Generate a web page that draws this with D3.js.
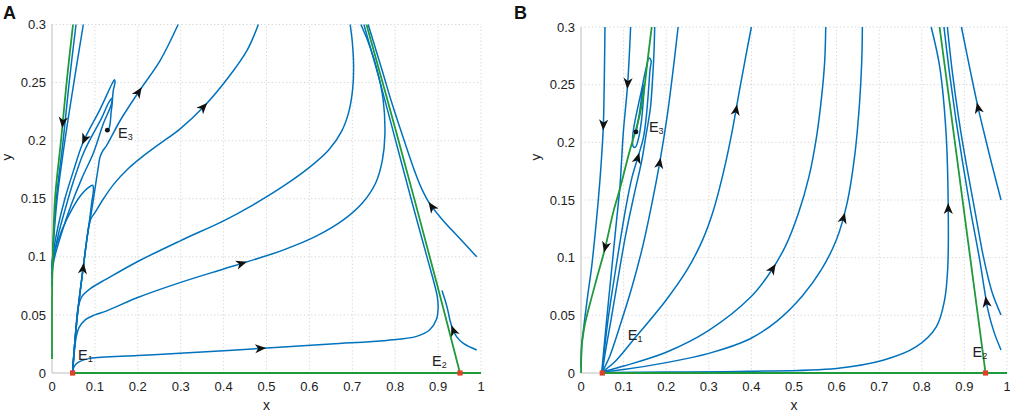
<!DOCTYPE html>
<html><head><meta charset="utf-8">
<script src="https://cdn.jsdelivr.net/npm/d3@7"></script>
<style>
body{margin:0;background:#fff}
svg{display:block}
text{font-family:"Liberation Sans",Arial,Helvetica,sans-serif;fill:#222}
</style>
</head><body>
<svg id="chart" width="1010" height="413"></svg>
<script>
// ---------- tick values / labels ----------
const xTicks = [0,0.1,0.2,0.3,0.4,0.5,0.6,0.7,0.8,0.9,1];
const xTickLabels = ["0","0.1","0.2","0.3","0.4","0.5","0.6","0.7","0.8","0.9","1"];
const yTicks = [0,0.05,0.1,0.15,0.2,0.25,0.3];
const yTickLabels = ["0","0.05","0.1","0.15","0.2","0.25","0.3"];

// ---------- Panel A trajectories (x, y) ----------
const aGreenSep   = [[0.049,0.3],[0.034,0.25],[0.021,0.2],[0.007,0.15],[0.002,0.1],[0.0005,0.08],[0,0.06],[0,0.012]];
const aGreenBase  = [[0.048,0],[1,0]];
const aGreenRight = [[0.951,0],[0.897,0.077],[0.8035,0.206],[0.733,0.3]];

const aDown1 = [[0.056,0.3],[0.04,0.25],[0.026,0.2],[0.01,0.15],[0.003,0.115],[0.001,0.09],[0,0.075]];
const aDown2 = [[0.073,0.3],[0.051,0.25],[0.03,0.2],[0.012,0.15],[0.004,0.115],[0.001,0.095],[0,0.082]];
const aLoopOuter = [[0,0.086],[0.005,0.098],[0.022,0.12],[0.045,0.145],[0.07,0.168],[0.096,0.189],[0.12,0.215],[0.139,0.232],[0.143,0.2436],[0.147,0.2505],[0.1455,0.2525],[0.14,0.249],[0.112,0.227],[0.073,0.199],[0.05,0.174],[0.03,0.15],[0.014,0.126],[0.004,0.106],[0,0.094]];
const aLoopInner = [[0.132,0.209],[0.135,0.2135],[0.138,0.225],[0.1405,0.233],[0.1405,0.2365],[0.137,0.2355],[0.131,0.232],[0.115,0.219],[0.096,0.206],[0.073,0.189],[0.05,0.165],[0.03,0.14],[0.014,0.118],[0.004,0.1],[0,0.09]];
const aHump  = [[0.048,0.001],[0.0536,0.028],[0.0613,0.057],[0.073,0.0915],[0.081,0.1145],[0.088,0.133],[0.093,0.148],[0.0965,0.157],[0.095,0.1615],[0.088,0.1605],[0.065,0.152],[0.034,0.132],[0.015,0.115],[0.003,0.1],[0,0.09]];
const aUp    = [[0.048,0.001],[0.0536,0.028],[0.0613,0.057],[0.073,0.0915],[0.081,0.1145],[0.0925,0.14],[0.1,0.158],[0.107,0.175],[0.112,0.186],[0.118,0.191],[0.1275,0.196],[0.16,0.218],[0.205,0.2436],[0.252,0.269],[0.294,0.3]];
const aMid   = [[0.048,0.001],[0.0536,0.028],[0.0613,0.057],[0.073,0.0915],[0.081,0.1145],[0.0855,0.126],[0.091,0.133],[0.1,0.138],[0.12,0.15],[0.145,0.163],[0.175,0.175],[0.21,0.186],[0.25,0.197],[0.298,0.21],[0.353,0.229],[0.41,0.254],[0.455,0.278],[0.481,0.3]];
const aUpper = [[0.048,0.001],[0.0536,0.028],[0.0613,0.057],[0.07,0.066],[0.0886,0.0725],[0.1275,0.081],[0.2,0.096],[0.3,0.114],[0.4,0.131],[0.47,0.145],[0.54,0.161],[0.6,0.177],[0.645,0.192],[0.675,0.208],[0.692,0.225],[0.701,0.245],[0.703,0.265],[0.7,0.285],[0.695,0.3]];
const aLower = [[0.048,0.001],[0.052,0.018],[0.056,0.03],[0.063,0.039],[0.078,0.046],[0.1,0.05],[0.1275,0.0535],[0.2,0.065],[0.3,0.078],[0.4,0.0895],[0.4615,0.0965],[0.54,0.106],[0.617,0.118],[0.68,0.132],[0.725,0.147],[0.755,0.164],[0.77,0.183],[0.776,0.205],[0.772,0.235],[0.756,0.2635],[0.737,0.285],[0.72,0.3]];
const aBottom = [[0.048,0.001],[0.052,0.006],[0.06,0.009],[0.0886,0.0126],[0.2,0.015],[0.298,0.017],[0.4925,0.0213],[0.65,0.025],[0.78,0.028],[0.85,0.0315],[0.88,0.037],[0.896,0.046],[0.9,0.056],[0.898,0.066],[0.891,0.077],[0.874,0.1],[0.837,0.15],[0.801,0.2],[0.765,0.25],[0.727,0.3]];
const aRight1 = [[0.99,0.1],[0.95,0.116],[0.91,0.132],[0.88,0.146],[0.86,0.16],[0.845,0.174],[0.83,0.19],[0.812,0.21],[0.79,0.235],[0.77,0.26],[0.737,0.3]];
const aRight2 = [[0.99,0.0198],[0.959,0.0255],[0.943,0.0313],[0.934,0.038],[0.928,0.045],[0.922,0.055],[0.916,0.063],[0.909,0.071]];

const aArrows = [["aGreenSep",0.021,0.2147],["aLoopOuter",0.075,0.2],["aUp",0.201,0.2436],["aMid",0.353,0.2307],
  ["aUp",0.073,0.0915],["aLower",0.446,0.0945],["aBottom",0.49,0.021],["aRight1",0.881,0.144],["aRight2",0.934,0.038]];
const aEq = [[0.048,0],[0.951,0]];
const aE3 = [0.129,0.209];
const aLabels = [["1",0.0606,0.0112],["2",0.886,0.006],["3",0.154,0.2023]];

// ---------- Panel B trajectories ----------
const bGreenSep   = [[0.166,0.3],[0.156,0.27],[0.148,0.245],[0.1385,0.225],[0.1275,0.2092],[0.1149,0.1934],[0.09,0.158],[0.0758,0.1395],[0.0563,0.108],[0.037,0.082],[0.021,0.06],[0.009,0.042],[0.002,0.025],[0.0005,0.012],[0,0]];
const bGreenBase  = [[0.05,0],[1,0]];
const bGreenRight = [[0.9496,0],[0.8417,0.3]];

const bL1 = [[0.0563,0.3],[0.0545,0.25],[0.0524,0.2136],[0.047,0.18],[0.0406,0.15],[0.033,0.12],[0.025,0.092],[0.016,0.068],[0.0094,0.0488],[0.004,0.032],[0.0016,0.0228],[0,0.005]];
const bL2 = [[0.1165,0.3],[0.1094,0.25],[0.0992,0.208],[0.0914,0.1616],[0.0836,0.1328],[0.0758,0.104],[0.068,0.075],[0.0602,0.046],[0.053,0.018],[0.049,0.002]];
const bSpiral = [[0.05,0.001],[0.055,0.02],[0.063,0.045],[0.075,0.075],[0.09,0.11],[0.106,0.145],[0.12,0.17],[0.134,0.1875],[0.147,0.205],[0.154,0.225],[0.159,0.248],[0.162,0.263],[0.1645,0.271],[0.16,0.273],[0.152,0.263],[0.142,0.245],[0.132,0.228],[0.124,0.213],[0.121,0.203],[0.123,0.196],[0.128,0.196],[0.136,0.205],[0.142,0.219],[0.146,0.235],[0.148,0.246],[0.148,0.25],[0.146,0.248],[0.142,0.238],[0.137,0.225],[0.132,0.214],[0.1295,0.209]];
const bUa = [[0.05,0.001],[0.058,0.02],[0.07,0.045],[0.086,0.08],[0.105,0.12],[0.125,0.155],[0.142,0.183],[0.152,0.205],[0.163,0.23],[0.168,0.255],[0.171,0.275],[0.173,0.3]];
const bR1 = [[0.05,0.001],[0.068,0.015],[0.095,0.045],[0.12,0.075],[0.145,0.11],[0.167,0.148],[0.186,0.185],[0.202,0.222],[0.216,0.262],[0.228,0.3]];
const bR2 = [[0.05,0.001],[0.08,0.01],[0.1227,0.0286],[0.2,0.0633],[0.25,0.09],[0.285,0.115],[0.31,0.14],[0.335,0.175],[0.355,0.21],[0.372,0.245],[0.387,0.275],[0.4,0.3]];
const bR3 = [[0.05,0.001],[0.1,0.006],[0.2,0.018],[0.3,0.037],[0.396,0.065],[0.44,0.085],[0.48,0.11],[0.51,0.138],[0.535,0.17],[0.553,0.205],[0.565,0.24],[0.572,0.27],[0.5745,0.3]];
const bR4 = [[0.05,0.001],[0.1,0.003],[0.2,0.009],[0.3,0.017],[0.396,0.0295],[0.46,0.045],[0.52,0.067],[0.565,0.09],[0.6,0.116],[0.625,0.148],[0.643,0.19],[0.654,0.235],[0.659,0.27],[0.6605,0.3]];
const bR5 = [[0.05,0.0005],[0.2,0.0008],[0.396,0.0015],[0.5995,0.004],[0.709,0.011],[0.787,0.0228],[0.834,0.04],[0.8535,0.0633],[0.861,0.092],[0.862,0.144],[0.857,0.2078],[0.842,0.2656],[0.822,0.3]];
const bR6 = [[0.986,0.02],[0.97,0.035],[0.955,0.055],[0.948,0.07],[0.935,0.1],[0.915,0.14],[0.897,0.18],[0.88,0.22],[0.865,0.26],[0.852,0.3]];
const bR7 = [[0.986,0.0503],[0.965,0.07],[0.945,0.1],[0.925,0.14],[0.905,0.18],[0.887,0.22],[0.872,0.26],[0.86,0.3]];
const bR8 = [[0.986,0.15],[0.965,0.18],[0.945,0.21],[0.9316,0.231],[0.915,0.26],[0.893,0.3]];

const bArrows = [["bL1",0.0524,0.2136],["bL2",0.1094,0.2497],["bGreenSep",0.0563,0.108],["bSpiral",0.134,0.1875],
  ["bR1",0.19,0.183],["bR2",0.3634,0.2295],["bR3",0.451,0.0921],["bR4",0.619,0.1355],["bR5",0.862,0.144],
  ["bR8",0.9316,0.231],["bR6",0.951,0.063]];
const bEq = [[0.05,0],[0.9496,0]];
const bE3 = [0.129,0.209];
const bLabels = [["1",0.11,0.0286],["2",0.919,0.0139],["3",0.1594,0.209]];

// ---------- panel tables built from the arrays ----------
const BLUE = "#0072BD", GREEN = "#1f9a3a";
const panels = [
  { letter:"A", range:{x0:52,x1:481,y0:373,y1:24.5}, letterPos:[3,19], ylabX:11,
    blue:{aDown1,aDown2,aLoopOuter,aLoopInner,aHump,aUp,aMid,aUpper,aLower,aBottom,aRight1,aRight2},
    green:{aGreenSep,aGreenBase,aGreenRight}, arrows:aArrows, eq:aEq, e3:aE3, labels:aLabels },
  { letter:"B", range:{x0:581,x1:1007,y0:373,y1:27}, letterPos:[514,19], ylabX:540,
    blue:{bL1,bL2,bSpiral,bUa,bR1,bR2,bR3,bR4,bR5,bR6,bR7,bR8},
    green:{bGreenSep,bGreenBase,bGreenRight}, arrows:bArrows, eq:bEq, e3:bE3, labels:bLabels }
];

const svg = d3.select("#chart");

panels.forEach((p, pi) => {
  const x = d3.scaleLinear().domain([0,1]).range([p.range.x0, p.range.x1]);
  const y = d3.scaleLinear().domain([0,0.3]).range([p.range.y0, p.range.y1]);
  const g = svg.append("g");

  const cid = "clip"+pi;
  svg.append("clipPath").attr("id",cid).append("rect")
    .attr("x", x(0)-1).attr("y", y(0.3)-1)
    .attr("width", x(1)-x(0)+2).attr("height", y(0)-y(0.3)+3);

  // grid
  g.append("g").selectAll("line").data(xTicks.slice(1)).join("line")
    .attr("x1",d=>x(d)).attr("x2",d=>x(d)).attr("y1",y(0)).attr("y2",y(0.3))
    .attr("stroke","#c9c9c9").attr("stroke-width",0.8).attr("stroke-dasharray","1.2,2.4");
  g.append("g").selectAll("line").data(yTicks.slice(1)).join("line")
    .attr("y1",d=>y(d)).attr("y2",d=>y(d)).attr("x1",x(0)).attr("x2",x(1))
    .attr("stroke","#c9c9c9").attr("stroke-width",0.8).attr("stroke-dasharray","1.2,2.4");

  // axes lines
  g.append("line").attr("x1",x(0)).attr("x2",x(0)).attr("y1",y(0)).attr("y2",y(0.3))
    .attr("stroke","#bdbdbd").attr("stroke-width",1);
  g.append("line").attr("x1",x(0)).attr("x2",x(1)).attr("y1",y(0)).attr("y2",y(0))
    .attr("stroke","#bdbdbd").attr("stroke-width",1);

  // tick labels
  g.append("g").selectAll("text").data(xTicks).join("text")
    .attr("x",d=>x(d)).attr("y",y(0)+17.5).attr("text-anchor","middle")
    .attr("font-size",13).text((d,i)=>xTickLabels[i]);
  g.append("g").selectAll("text").data(yTicks).join("text")
    .attr("x",x(0)-6).attr("y",d=>y(d)+4.6).attr("text-anchor","end")
    .attr("font-size",13).text((d,i)=>yTickLabels[i]);

  // axis labels
  g.append("text").attr("x",x(0.5)).attr("y",410).attr("text-anchor","middle")
    .attr("font-size",14).text("x");
  g.append("text").attr("transform",`translate(${p.ylabX},157) rotate(-90)`)
    .attr("text-anchor","middle").attr("font-size",13.5).text("y");

  // panel letter
  g.append("text").attr("x",p.letterPos[0]).attr("y",p.letterPos[1])
    .attr("font-size",18).attr("font-weight","bold").style("fill","#111").text(p.letter);

  const line = d3.line().x(d=>x(d[0])).y(d=>y(d[1])).curve(d3.curveCatmullRom.alpha(0.5));
  const plot = g.append("g").attr("clip-path",`url(#${cid})`);
  const pathNodes = {};

  Object.entries(p.blue).forEach(([name,data]) => {
    pathNodes[name] = plot.append("path").datum(data).attr("d",line)
      .attr("fill","none").attr("stroke",BLUE).attr("stroke-width",1.5)
      .attr("stroke-linejoin","round").node();
  });
  Object.entries(p.green).forEach(([name,data]) => {
    pathNodes[name] = plot.append("path").datum(data).attr("d",line)
      .attr("fill","none").attr("stroke",GREEN).attr("stroke-width",1.8).node();
  });

  // arrows: on the named path nearest the given point, oriented along flow
  p.arrows.forEach(([name,ax,ay]) => {
    const node = pathNodes[name];
    const L = node.getTotalLength();
    const px = x(ax), py = y(ay);
    let best = Infinity, bl = 0;
    for (let l = 0; l <= L; l += 0.5) {
      const q = node.getPointAtLength(l);
      const d = (q.x-px)**2 + (q.y-py)**2;
      if (d < best) { best = d; bl = l; }
    }
    const q = node.getPointAtLength(bl);
    const a = node.getPointAtLength(Math.max(0,bl-2));
    const b = node.getPointAtLength(Math.min(L,bl+2));
    const ang = Math.atan2(b.y-a.y, b.x-a.x)*180/Math.PI;
    g.append("path").attr("d","M4,0 L-7,-4.6 L-4,0 L-7,4.6 Z")
      .attr("transform",`translate(${q.x},${q.y}) rotate(${ang})`)
      .attr("fill","#111");
  });

  // equilibria
  g.selectAll("rect.eq").data(p.eq).join("rect").attr("class","eq")
    .attr("x",d=>x(d[0])-2.6).attr("y",d=>y(d[1])-2.6).attr("width",5.2).attr("height",5.2)
    .attr("fill","#e0402a");
  g.append("circle").attr("cx",x(p.e3[0])).attr("cy",y(p.e3[1])).attr("r",2.4).attr("fill","#111");

  // E labels
  p.labels.forEach(([sub,lx,ly]) => {
    const t = g.append("text").attr("x",x(lx)).attr("y",y(ly)).attr("font-size",14.5);
    t.append("tspan").text("E");
    t.append("tspan").attr("font-size",9).attr("dy",2).text(sub);
  });
});
</script>
</body></html>
